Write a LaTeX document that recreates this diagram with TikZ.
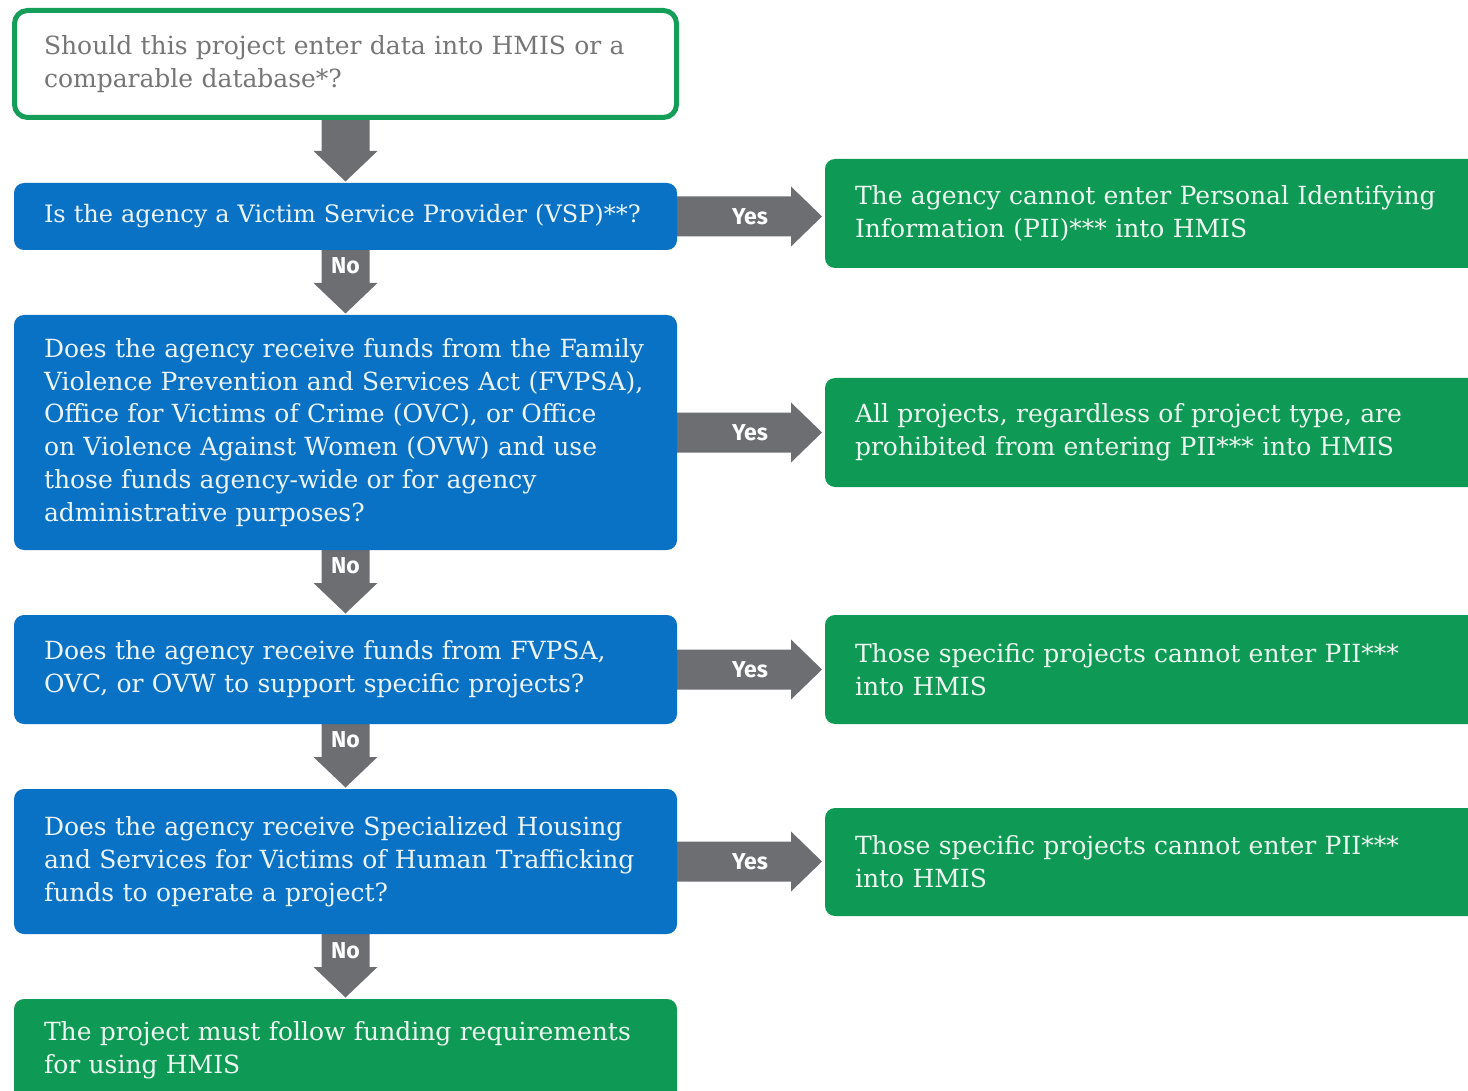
\documentclass[tikz,border=0pt]{standalone}
\usepackage{fontspec}
\setmainfont{DejaVu Serif}
\newfontfamily\labelfont{Fira Sans}
\usetikzlibrary{calc,backgrounds}
\definecolor{qblue}{RGB}{10,114,196}
\definecolor{agreen}{RGB}{14,153,84}
\definecolor{bgreen}{RGB}{20,158,88}
\definecolor{agray}{RGB}{108,110,114}
\definecolor{tgray}{RGB}{118,118,118}
\definecolor{btext}{RGB}{236,244,250}
\definecolor{gtext}{RGB}{236,248,240}
\tikzset{
  box/.style={rectangle, rounded corners=10pt, anchor=north west, align=left,
    inner xsep=30pt, inner ysep=0pt, text width=603pt, outer sep=0pt,
    font=\fontsize{25}{32.8}\selectfont},
  startbox/.style={box, draw=bgreen, line width=5pt, fill=white, text=tgray,
    inner xsep=29.5pt, minimum width=662pt, rounded corners=13pt},
  qbox/.style={box, fill=qblue, text=btext, minimum width=663pt},
  abox/.style={box, fill=agreen, text=gtext, minimum width=663pt},
  rbox/.style={box, fill=agreen, text=gtext, text width=595pt, minimum width=655pt},
  yn/.style={text=white, font=\labelfont\bfseries\fontsize{23}{25}\selectfont, inner sep=0pt},
  arr/.style={fill=agray}
}
\newcommand\downarr[2]{%
  \fill[arr] ($(#1.south)+(-24pt,1pt)$) -- ($(#2.north)+(-24pt,32pt)$)
    -- ($(#2.north)+(-32pt,32pt)$) -- ($(#2.north)+(0pt,1.5pt)$)
    -- ($(#2.north)+(32pt,32pt)$) -- ($(#2.north)+(24pt,32pt)$)
    -- ($(#1.south)+(24pt,1pt)$) -- cycle;}
\newcommand\rightarr[2]{%
  \fill[arr] ($(#1.east)+(-1pt,20pt)$) -- ($(#2.west |- #1.east)+(-34pt,20pt)$)
    -- ($(#2.west |- #1.east)+(-34pt,30pt)$) -- ($(#2.west |- #1.east)+(-3pt,0pt)$)
    -- ($(#2.west |- #1.east)+(-34pt,-30pt)$) -- ($(#2.west |- #1.east)+(-34pt,-20pt)$)
    -- ($(#1.east)+(-1pt,-20pt)$) -- cycle;}
\begin{document}
\begin{tikzpicture}[x=1pt,y=1pt]
\useasboundingbox (0,0) rectangle (1468,-1091);
% left column
\node[startbox, minimum height=107pt] (q0) at (14.5,-10.5)
  {Should this project enter data into HMIS or a\\comparable database*?};
\node[qbox, minimum height=67pt, font=\fontsize{24}{32.8}\selectfont] (q1) at (14,-183)
  {Is the agency a Victim Service Provider (VSP)**?};
\node[qbox, minimum height=235pt] (q2) at (14,-315)
  {Does the agency receive funds from the Family\\Violence Prevention and Services Act (FVPSA),\\Office for Victims of Crime (OVC), or Office\\on Violence Against Women (OVW) and use\\those funds agency-wide or for agency\\administrative purposes?};
\node[qbox, minimum height=109pt] (q3) at (14,-615)
  {Does the agency receive funds from FVPSA,\\OVC, or OVW to support specific projects?};
\node[qbox, minimum height=145pt] (q4) at (14,-789)
  {Does the agency receive Specialized Housing\\and Services for Victims of Human Trafficking\\funds to operate a project?};
\node[abox, minimum height=102pt] (fin) at (14,-999)
  {The project must follow funding requirements\\for using HMIS};
% right column
\node[rbox, minimum height=109pt] (r1) at (825,-159)
  {The agency cannot enter Personal Identifying\\Information (PII)*** into HMIS};
\node[rbox, minimum height=109pt] (r2) at (825,-378)
  {All projects, regardless of project type, are\\prohibited from entering PII*** into HMIS};
\node[rbox, minimum height=109pt] (r3) at (825,-615)
  {Those specific projects cannot enter PII***\\into HMIS};
\node[rbox, minimum height=108pt] (r4) at (825,-808)
  {Those specific projects cannot enter PII***\\into HMIS};
% connectors
\begin{scope}[on background layer]
\fill[arr] ($(q0.south)+(-24pt,0pt)$) -- ($(q1.north)+(-24pt,32pt)$)
    -- ($(q1.north)+(-32pt,32pt)$) -- ($(q1.north)+(0pt,1.5pt)$)
    -- ($(q1.north)+(32pt,32pt)$) -- ($(q1.north)+(24pt,32pt)$)
    -- ($(q0.south)+(24pt,0pt)$) -- cycle;
\downarr{q1}{q2}
\downarr{q2}{q3}
\downarr{q3}{q4}
\downarr{q4}{fin}
\rightarr{q1}{r1}
\rightarr{q2}{r2}
\rightarr{q3}{r3}
\rightarr{q4}{r4}
\end{scope}
% labels
\node[yn] (n1) at ($(q1.south)+(0pt,-16pt)$) {No};
\node[yn] (n2) at ($(q2.south)+(0pt,-16pt)$) {No};
\node[yn] (n3) at ($(q3.south)+(0pt,-16pt)$) {No};
\node[yn] (n4) at ($(q4.south)+(0pt,-17pt)$) {No};
\node[yn] (y1) at ($(q1.east)+(73pt,0pt)$) {Yes};
\node[yn] (y2) at ($(q2.east)+(73pt,0pt)$) {Yes};
\node[yn] (y3) at ($(q3.east)+(73pt,0pt)$) {Yes};
\node[yn] (y4) at ($(q4.east)+(73pt,0pt)$) {Yes};
\end{tikzpicture}
\end{document}
